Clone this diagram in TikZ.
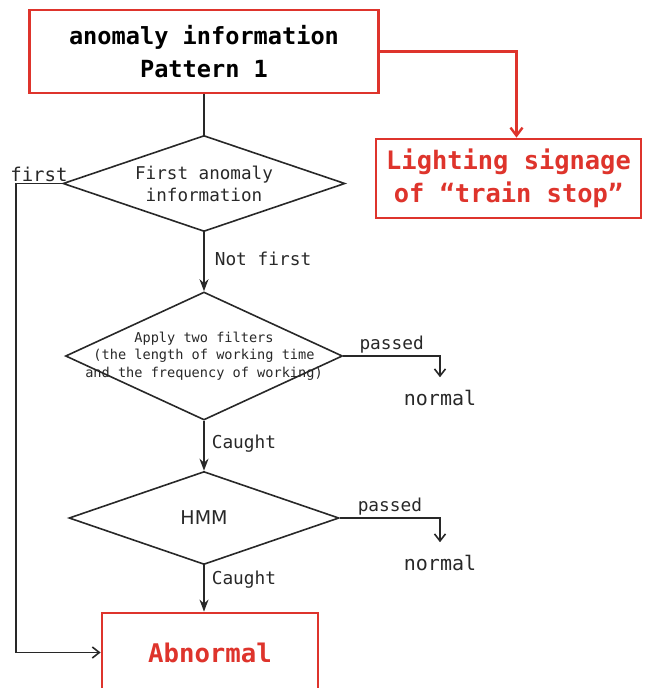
\documentclass[tikz,border=0pt]{standalone}
\usepackage{fontspec}
\setmonofont{DejaVu Sans Mono}
\setsansfont{DejaVu Sans}
\usetikzlibrary{shapes.geometric,arrows.meta}
\definecolor{alertred}{RGB}{222,52,44}
\definecolor{inkgray}{RGB}{40,40,40}

\begin{document}
\begin{tikzpicture}[
    x=1pt, y=1pt,
    node distance=150pt,
    redbox/.style={draw=alertred, line width=2.8pt, rectangle, align=center},
    decision/.style={draw=inkgray, line width=1.6pt, diamond, aspect=2.9, inner sep=0pt, align=center, text=inkgray},
    arrow/.style={-{Stealth[length=12pt,width=9pt]}, line width=1.6pt, draw=inkgray},
    plain/.style={line width=1.6pt, draw=inkgray},
    openarrow/.style={-{Straight Barb[length=7pt,width=11pt]}, line width=1.6pt, draw=inkgray},
    redarrow/.style={-{Straight Barb[length=8pt,width=12pt]}, line width=2.4pt, draw=alertred},
    lbl/.style={font=\ttfamily\fontsize{17.8}{20}\selectfont, inner sep=2pt, text=inkgray},
    result/.style={font=\ttfamily\fontsize{20}{22}\selectfont, inner sep=2pt, outer sep=11pt, text=inkgray}
]
  \useasboundingbox (0,0) rectangle (648,-688);

  \node[redbox, minimum width=349pt, minimum height=83pt, font=\ttfamily\bfseries\fontsize{23.6}{33}\selectfont] (pat) at (204,-51.5) {anomaly information\\Pattern 1};
  \node[redbox, right of=pat, xshift=154.5pt, yshift=-127pt, minimum width=265pt, minimum height=79pt, text=alertred, font=\ttfamily\bfseries\fontsize{25.4}{33}\selectfont] (sig) {Lighting signage\\of “train stop”};

  \node[decision, below of=pat, yshift=18pt, minimum width=282pt, minimum height=96pt, font=\ttfamily\fontsize{17.6}{22}\selectfont] (first) {First anomaly\\information};
  \node[decision, below of=first, yshift=-22.5pt, minimum width=277pt, minimum height=128pt, aspect=2.16, inner sep=-11pt, font=\ttfamily\fontsize{13.6}{17.5}\selectfont] (filt) {Apply two filters\\(the length of working time\\and the frequency of working)};
  \node[decision, below of=filt, yshift=-12pt, minimum width=270pt, minimum height=93pt, font=\sffamily\fontsize{19}{22}\selectfont] (hmm) {HMM};
  \node[redbox, below of=hmm, yshift=15.5pt, xshift=6pt, minimum width=216pt, minimum height=79pt, text=alertred, font=\ttfamily\bfseries\fontsize{25.7}{30}\selectfont] (abn) {Abnormal};

  \node[result, right of=filt, xshift=86pt, yshift=-42pt] (ok1) {normal};
  \node[result, right of=hmm, xshift=86pt, yshift=-45pt] (ok2) {normal};

  \draw[redarrow] (pat.east) -| ([xshift=8pt]sig.north);
  \draw[plain] (pat) -- (first);
  \draw[arrow] (first) -- node[lbl, right=8pt, pos=0.45] {Not first} (filt);
  \draw[arrow] (filt) -- node[lbl, right=5pt, pos=0.45] {Caught} (hmm);
  \draw[arrow] (hmm.south) -- node[lbl, right=5pt, pos=0.3] {Caught} (hmm.south |- abn.north);
  \draw[openarrow] (filt.east) -| node[lbl, above, pos=0.25] {passed} (ok1.north);
  \draw[openarrow] (hmm.east) -| node[lbl, above, pos=0.25] {passed} (ok2.north);
  \draw[openarrow] (first.west) -- node[lbl, above, inner sep=1pt, font=\ttfamily\fontsize{19}{21}\selectfont] {first} ++(-46.5,0) |- (abn.west);
\end{tikzpicture}
\end{document}
